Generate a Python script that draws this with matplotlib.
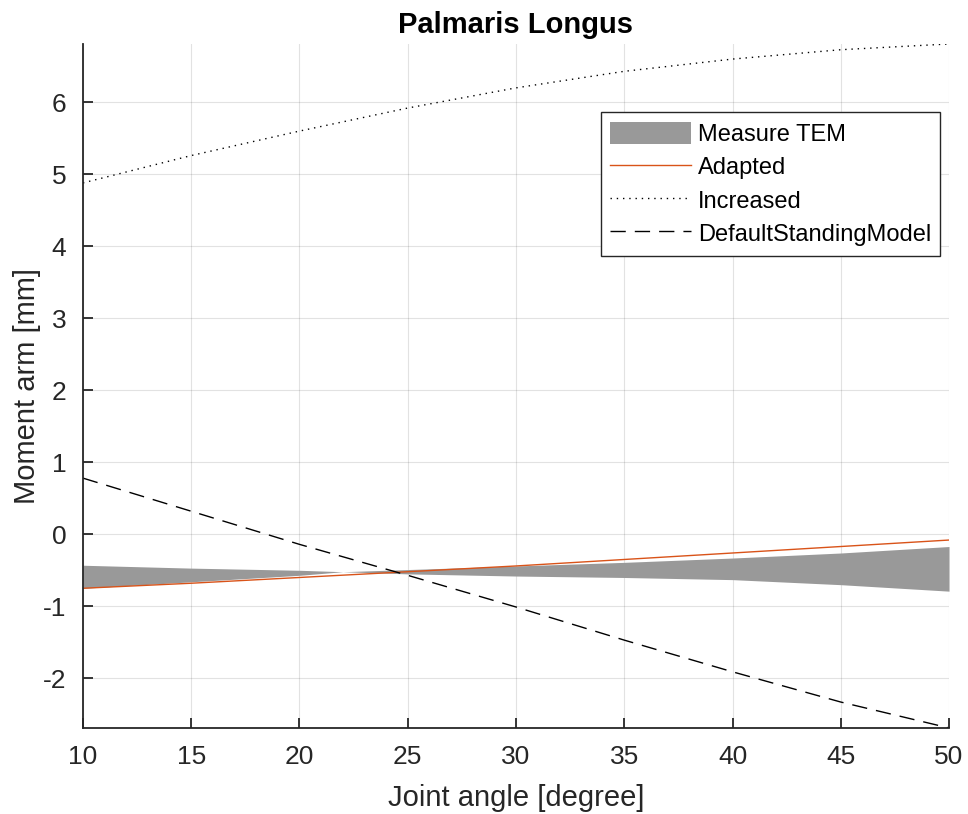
import numpy as np
import matplotlib
matplotlib.use("Agg")
import matplotlib.pyplot as plt

plt.rcParams['font.family'] = ['Liberation Sans', 'DejaVu Sans']
plt.rcParams['axes.unicode_minus'] = False

# joint angles (degree)
angle = [10, 15, 20, 25, 30, 35, 40, 45, 50]

# moment arm curves (mm)
adapted = [-0.75, -0.68, -0.60, -0.52, -0.44, -0.35, -0.26, -0.17, -0.08]
increased = [4.88, 5.26, 5.60, 5.92, 6.20, 6.43, 6.60, 6.73, 6.81]
default_standing = [0.78, 0.32, -0.14, -0.57, -1.01, -1.47, -1.91, -2.33, -2.69]

# measured TEM band
tem_angle = [10, 15, 20, 22, 25, 30, 35, 40, 45, 50]
tem_upper = [-0.43, -0.47, -0.50, -0.52, -0.49, -0.44, -0.39, -0.33, -0.26, -0.17]
tem_lower = [-0.75, -0.66, -0.57, -0.52, -0.55, -0.58, -0.60, -0.63, -0.70, -0.79]

fig = plt.figure(figsize=(9.68, 8.14), dpi=100)
ax = fig.add_axes([0.0857, 0.1057, 0.8947, 0.8403])

ax.fill_between(tem_angle, tem_lower, tem_upper, color='#999999', linewidth=0,
                label='Measure TEM')
ax.plot(angle, adapted, color='#D95319', linewidth=1.0, label='Adapted')
ax.plot(angle, increased, color='black', linewidth=1.0, dashes=(1, 3.5),
        label='Increased')
ax.plot(angle, default_standing, color='black', linewidth=1.0, dashes=(11, 6.5),
        label='DefaultStandingModel')

ax.set_xlim(min(angle), max(angle))
ax.set_ylim(min(default_standing), max(increased))
ax.set_xticks(np.arange(10, 51, 5))
ax.set_yticks(np.arange(-2, 7, 1))

ax.grid(True, color='#262626', alpha=0.13, linewidth=0.8)
ax.set_axisbelow(True)
for side in ['top', 'right']:
    ax.spines[side].set_visible(False)
for side in ['left', 'bottom']:
    ax.spines[side].set_color('#262626')
    ax.spines[side].set_linewidth(1.3)
ax.tick_params(direction='in', length=7, width=1.3, colors='#262626',
               labelsize=19, pad=12)

ax.set_xlabel('Joint angle [degree]', fontsize=21, color='#262626', labelpad=11)
ax.set_ylabel('Moment arm [mm]', fontsize=21, color='#262626', labelpad=1)
ax.set_title('Palmaris Longus', fontsize=21, fontweight='bold', pad=8)

leg = ax.legend(loc='upper right', bbox_to_anchor=(0.99, 0.9), fontsize=17,
                frameon=True, fancybox=False, edgecolor='#262626',
                handlelength=3.4, handleheight=1.1, handletextpad=0.3,
                labelspacing=0.38, borderpad=0.4, borderaxespad=0)
leg.get_frame().set_linewidth(1.0)
leg.get_frame().set_alpha(1)

fig.savefig('out.png', dpi=100)
